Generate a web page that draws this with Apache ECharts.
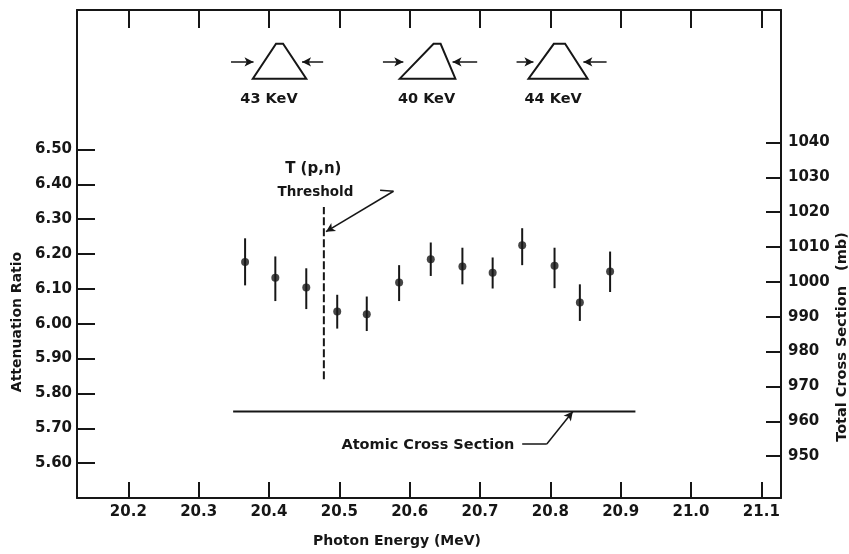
<!DOCTYPE html>
<html>
<head>
<meta charset="utf-8">
<script src="https://cdn.jsdelivr.net/npm/echarts@6/dist/echarts.min.js"></script>
<style>
  html, body { margin: 0; padding: 0; background: #fff; }
  #chart { width: 849px; height: 554px; }
</style>
</head>
<body>
<div id="chart"></div>
<script>
// measured points (photon energy in MeV, attenuation ratio with error bar ends)
const energy = [20.366, 20.409, 20.453, 20.497, 20.539, 20.585, 20.630, 20.675, 20.718, 20.760, 20.806, 20.842, 20.885];
const ratio = [6.177, 6.132, 6.104, 6.035, 6.027, 6.118, 6.185, 6.164, 6.146, 6.225, 6.166, 6.061, 6.150];
const ratioLow = [6.110, 6.065, 6.042, 5.986, 5.979, 6.065, 6.137, 6.113, 6.101, 6.168, 6.102, 6.008, 6.091];
const ratioHigh = [6.245, 6.193, 6.159, 6.083, 6.078, 6.168, 6.233, 6.218, 6.190, 6.274, 6.218, 6.113, 6.207];

// tick labels
const energyTicks = [20.2, 20.3, 20.4, 20.5, 20.6, 20.7, 20.8, 20.9, 21.0, 21.1];
const ratioTicks = [5.6, 5.7, 5.8, 5.9, 6.0, 6.1, 6.2, 6.3, 6.4, 6.5];
const crossTicks = [950, 960, 970, 980, 990, 1000, 1010, 1020, 1030, 1040];

// T(p,n) threshold and atomic cross section level
const thresholdEnergy = 20.478;
const thresholdSpan = [5.841, 6.335];
const atomicSpan = [20.349, 20.921];
const atomicRatio = 5.748;

// beam resolution sketches at the top
const pulseLabels = ['43 KeV', '40 KeV', '44 KeV'];
const pulseLabelX = [20.400, 20.624, 20.804];
const pulseBase = [[20.377, 20.453], [20.586, 20.665], [20.769, 20.853]];
const pulseTop = [[20.410, 20.420], [20.634, 20.644], [20.805, 20.821]];
const pulseArrows = [[20.346, 20.378, 20.477, 20.447], [20.562, 20.591, 20.696, 20.661], [20.752, 20.776, 20.880, 20.847]];
const pulseLevels = [6.703, 6.803, 6.751, 6.643]; // base, top, arrows, label

const ink = '#161616';
const font = 'DejaVu Sans';

const chart = echarts.init(document.getElementById('chart'));

const axisCommon = {
  type: 'value',
  axisLine: { show: true, lineStyle: { color: ink, width: 2 } },
  splitLine: { show: false }
};

// x, y, text, font size
const annotTexts = [
  [20.463, 6.443, 'T (p,n)', 15],
  [20.466, 6.377, 'Threshold', 13.5],
  [20.626, 5.652, 'Atomic Cross Section', 14.5]
].concat(pulseLabels.map((t, i) => [pulseLabelX[i], pulseLevels[3], t, 14.5]));

const arrowLines = [];
pulseArrows.forEach(a => {
  arrowLines.push([{ coord: [a[0], pulseLevels[2]] }, { coord: [a[1], pulseLevels[2]] }]);
  arrowLines.push([{ coord: [a[2], pulseLevels[2]] }, { coord: [a[3], pulseLevels[2]] }]);
});
// threshold pointer
arrowLines.push([{ coord: [20.558, 6.383] }, { coord: [20.577, 6.380], symbol: 'none' }]);
arrowLines.push([{ coord: [20.577, 6.380] }, { coord: [20.481, 6.264] }]);
// atomic cross section pointer
arrowLines.push([{ coord: [20.760, 5.655] }, { coord: [20.795, 5.655], symbol: 'none' }]);
arrowLines.push([{ coord: [20.795, 5.655] }, { coord: [20.832, 5.748] }]);

chart.setOption({
  animation: false,
  backgroundColor: '#fff',
  grid: { left: 77, right: 68, top: 10, bottom: 56 },
  xAxis: [
    Object.assign({}, axisCommon, {
      position: 'bottom',
      min: 20.127, max: 21.128,
      axisTick: { inside: true, length: 16, lineStyle: { color: ink, width: 2 }, customValues: energyTicks },
      axisLabel: {
        customValues: energyTicks, margin: 7, color: ink, fontFamily: font, fontWeight: 'bold', fontSize: 15,
        formatter: v => v.toFixed(1)
      }
    }),
    Object.assign({}, axisCommon, {
      position: 'top',
      min: 20.127, max: 21.128,
      axisTick: { inside: true, length: 18, lineStyle: { color: ink, width: 2 }, customValues: energyTicks },
      axisLabel: { show: false }
    })
  ],
  yAxis: [
    Object.assign({}, axisCommon, {
      position: 'left',
      min: 5.5, max: 6.9,
      axisTick: { inside: true, length: 18, lineStyle: { color: ink, width: 2 }, customValues: ratioTicks },
      axisLabel: {
        customValues: ratioTicks, margin: 5, color: ink, fontFamily: font, fontWeight: 'bold', fontSize: 15,
        formatter: v => v.toFixed(2)
      }
    }),
    Object.assign({}, axisCommon, {
      position: 'right',
      min: 938, max: 1078,
      axisTick: { inside: true, length: 15, lineStyle: { color: ink, width: 2 }, customValues: crossTicks },
      axisLabel: {
        customValues: crossTicks, margin: 7, color: ink, fontFamily: font, fontWeight: 'bold', fontSize: 15,
        formatter: v => String(v)
      }
    })
  ],
  graphic: [
    { type: 'text', x: 17, y: 322, rotation: Math.PI / 2,
      style: { text: 'Attenuation Ratio', fill: ink, font: 'bold 14px "DejaVu Sans"', align: 'center', verticalAlign: 'middle' } },
    { type: 'text', x: 397, y: 541,
      style: { text: 'Photon Energy (MeV)', fill: ink, font: 'bold 14px "DejaVu Sans"', align: 'center', verticalAlign: 'middle' } },
    { type: 'text', x: 842, y: 337, rotation: Math.PI / 2,
      style: { text: 'Total Cross Section   (mb)', fill: ink, font: 'bold 14.5px "DejaVu Sans"', align: 'center', verticalAlign: 'middle' } }
  ],
  series: [
    {
      name: 'error',
      type: 'custom',
      data: energy.map((e, i) => [e, ratioLow[i], ratioHigh[i]]),
      encode: { x: 0, y: [1, 2] },
      renderItem: (params, api) => {
        const lo = api.coord([api.value(0), api.value(1)]);
        const hi = api.coord([api.value(0), api.value(2)]);
        return { type: 'line', shape: { x1: lo[0], y1: lo[1], x2: hi[0], y2: hi[1] }, style: { stroke: ink, lineWidth: 2 } };
      },
      z: 2
    },
    {
      name: 'ratio',
      type: 'scatter',
      data: energy.map((e, i) => [e, ratio[i]]),
      symbol: 'circle',
      symbolSize: 8,
      itemStyle: { color: ink },
      z: 3
    },
    {
      name: 'threshold',
      type: 'line',
      data: [[thresholdEnergy, thresholdSpan[0]], [thresholdEnergy, thresholdSpan[1]]],
      showSymbol: false,
      lineStyle: { color: ink, width: 2, type: [8, 3] }
    },
    {
      name: 'atomic',
      type: 'line',
      data: [[atomicSpan[0], atomicRatio], [atomicSpan[1], atomicRatio]],
      showSymbol: false,
      lineStyle: { color: ink, width: 2 },
      markLine: {
        silent: true,
        symbol: ['none', 'arrow'],
        symbolSize: [7, 9],
        label: { show: false },
        lineStyle: { color: ink, width: 1.5, type: 'solid' },
        data: arrowLines
      }
    },
    {
      name: 'pulses',
      type: 'custom',
      clip: false,
      data: pulseBase.map((b, i) => [b[0], b[1], pulseTop[i][0], pulseTop[i][1]]),
      renderItem: (params, api) => {
        const bl = api.coord([api.value(0), pulseLevels[0]]);
        const br = api.coord([api.value(1), pulseLevels[0]]);
        const tr = api.coord([api.value(3), pulseLevels[1]]);
        const tl = api.coord([api.value(2), pulseLevels[1]]);
        return { type: 'polygon', shape: { points: [bl, br, tr, tl] }, style: { fill: 'none', stroke: ink, lineWidth: 2 } };
      }
    },
    {
      name: 'notes',
      type: 'custom',
      clip: false,
      data: annotTexts.map(a => [a[0], a[1]]),
      renderItem: (params, api) => {
        const p = api.coord([api.value(0), api.value(1)]);
        const a = annotTexts[params.dataIndex];
        return {
          type: 'text', x: p[0], y: p[1],
          style: { text: a[2], fill: ink, font: 'bold ' + a[3] + 'px "DejaVu Sans"', align: 'center', verticalAlign: 'middle' }
        };
      }
    }
  ]
});
</script>
</body>
</html>
